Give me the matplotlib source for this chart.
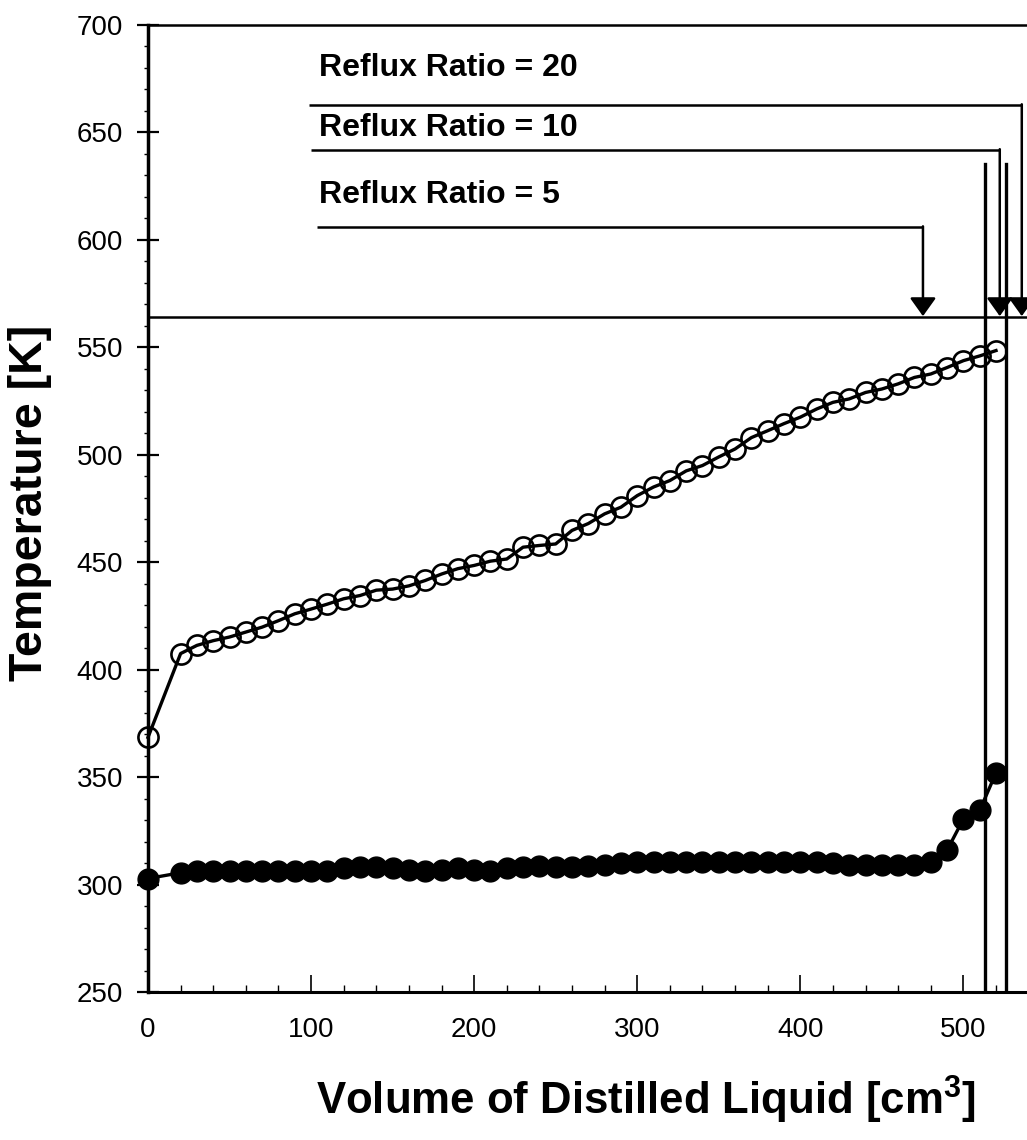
import matplotlib
matplotlib.use("Agg")
import matplotlib.pyplot as plt
from matplotlib.ticker import MultipleLocator

plt.rcParams['font.family'] = ['Liberation Sans', 'DejaVu Sans']
plt.rcParams['mathtext.fontset'] = 'custom'
plt.rcParams['mathtext.bf'] = 'Liberation Sans:bold'
plt.rcParams['mathtext.rm'] = 'Liberation Sans'

# volume of distilled liquid [cm3]
volume = [0, 20, 30, 40, 50, 60, 70, 80, 90, 100, 110, 120, 130, 140, 150,
          160, 170, 180, 190, 200, 210, 220, 230, 240, 250, 260, 270, 280,
          290, 300, 310, 320, 330, 340, 350, 360, 370, 380, 390, 400, 410,
          420, 430, 440, 450, 460, 470, 480, 490, 500, 510, 520]

# open circles (upper curve)
temp_open = [368.5, 407.5, 411.3, 413.5, 415.2, 417.5, 419.8, 422.8, 426.0,
             428.2, 430.5, 433.0, 434.5, 437.0, 437.5, 439.0, 441.5, 444.5,
             447.0, 448.5, 450.5, 451.5, 457.0, 457.8, 458.5, 464.8, 468.0,
             472.5, 475.6, 481.0, 485.0, 488.0, 492.5, 495.0, 499.0, 502.7,
             508.0, 511.2, 514.5, 517.5, 521.3, 524.4, 526.0, 529.0, 530.6,
             533.0, 536.0, 537.6, 540.6, 543.8, 546.0, 548.5]

# filled circles (lower curve)
temp_filled = [302.8, 305.5, 306.5, 306.5, 306.5, 306.5, 306.3, 306.3, 306.3,
               306.5, 306.5, 307.5, 308.0, 308.0, 307.5, 306.8, 306.5, 306.8,
               307.5, 307.0, 306.5, 307.5, 308.3, 308.5, 308.0, 308.0, 308.5,
               309.0, 310.0, 310.5, 310.5, 310.3, 310.3, 310.3, 310.3, 310.3,
               310.3, 310.3, 310.3, 310.3, 310.3, 310.0, 309.2, 309.0, 309.0,
               309.0, 309.2, 310.5, 316.0, 330.5, 334.5, 352.0]

# reflux ratio annotations: label, label height, line height, arrow x
rr_labels = ["Reflux Ratio = 20", "Reflux Ratio = 10", "Reflux Ratio = 5"]
rr_text_y = [680, 652, 621]
rr_line_y = [662.7, 641.8, 605.9]
rr_line_x0 = [98.6, 99.8, 103.5]
rr_arrow_x = [535.8, 522.3, 475.2]

# thin vertical markers and the horizontal divider
marker_x = [513.2, 526.3]
marker_top = 635.2
divider_y = 564.0

fig = plt.figure(figsize=(10.27, 11.4), dpi=100)
ax = fig.add_axes([148 / 1027, 1 - 992 / 1140, 1 - 148 / 1027, (992 - 25) / 1140])

ax.plot(volume, temp_open, '-', color='black', lw=2.4, marker='o', ms=14.5,
        mfc='none', mec='black', mew=1.9, zorder=3, clip_on=False)
ax.plot(volume, temp_filled, '-', color='black', lw=2.4, marker='o', ms=15,
        mfc='black', mec='black', zorder=3, clip_on=False)

ax.axhline(divider_y, color='black', lw=1.8)
for xv in marker_x:
    ax.plot([xv, xv], [250, marker_top], color='black', lw=2.4, zorder=4)

for label, ty, ly, x0, xa in zip(rr_labels, rr_text_y, rr_line_y, rr_line_x0, rr_arrow_x):
    ax.text(104.7, ty, label, fontsize=23, fontweight='bold', va='center', ha='left')
    ax.plot([x0, xa], [ly, ly], color='black', lw=1.8, solid_capstyle='butt')
    ax.annotate('', xy=(xa, divider_y + 0.5), xytext=(xa, ly + 0.4),
                arrowprops=dict(arrowstyle='-|>,head_length=0.7,head_width=0.5',
                                mutation_scale=16, color='black', lw=1.8,
                                shrinkA=0, shrinkB=0))

ax.set_xlim(0, 539)
ax.set_ylim(250, 700)

ax.xaxis.set_major_locator(MultipleLocator(100))
ax.xaxis.set_minor_locator(MultipleLocator(20))
ax.yaxis.set_major_locator(MultipleLocator(50))
ax.yaxis.set_minor_locator(MultipleLocator(10))

ax.tick_params(axis='x', which='major', direction='in', length=12, width=1.2,
               labelsize=20, pad=18)
ax.tick_params(axis='x', which='minor', direction='in', length=5, width=1.0)
ax.tick_params(axis='y', which='major', direction='inout', length=16, width=1.6,
               labelsize=20, pad=10)
ax.tick_params(axis='y', which='minor', direction='out', length=3, width=1.0)

ax.spines['right'].set_visible(False)
ax.spines['left'].set_linewidth(2.5)
ax.spines['bottom'].set_linewidth(2.2)
ax.spines['top'].set_linewidth(1.8)

fig.text(30 / 1027, 1 - 503 / 1140, 'Temperature [K]', rotation=90,
         fontsize=33.5, fontweight='bold', ha='center', va='center')
fig.text(646 / 1027, 1 - 1100 / 1140, r'Volume of Distilled Liquid [cm$^{\mathbf{3}}$]',
         fontsize=31.5, fontweight='bold', ha='center', va='center')

fig.savefig('out.png', dpi=100)
